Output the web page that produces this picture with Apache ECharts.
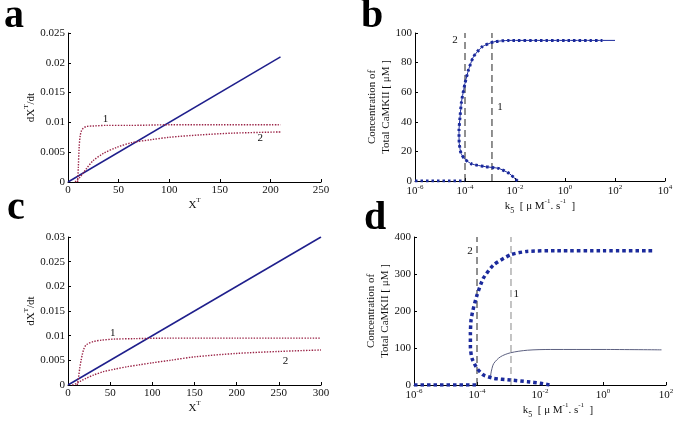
<!DOCTYPE html>
<html><head><meta charset="utf-8">
<script src="https://cdn.jsdelivr.net/npm/echarts@6/dist/echarts.min.js"></script>
<style>html,body{margin:0;padding:0;background:#fff}#c{width:685px;height:427px}</style>
</head><body><div id="c"></div>
<script>
// ---- Panel a data ----
const aLineX = [0, 210];
const aLineY = [0, 0.021];
const a1X = [9.5, 10.2, 11, 12, 13.3, 15, 18, 25, 38, 60, 100, 150, 210];
const a1Y = [0, 0.0025, 0.0058, 0.0077, 0.0086, 0.009, 0.0093, 0.0094, 0.0095, 0.0095, 0.0096, 0.0096, 0.0096];
const a2X = [7, 9, 11.7, 15, 18, 25, 35, 48, 63, 82, 100, 130, 163, 210];
const a2Y = [0, 0.0003, 0.0008, 0.0015, 0.0022, 0.0036, 0.0048, 0.0058, 0.0066, 0.0071, 0.0075, 0.0079, 0.0082, 0.0084];
// ---- Panel c data ----
const cLineX = [0, 300];
const cLineY = [0, 0.03];
const c1X = [11, 12.5, 14, 15.5, 17, 19, 22, 30, 40, 54, 80, 120, 200, 300];
const c1Y = [0, 0.0015, 0.0035, 0.005, 0.0062, 0.0074, 0.0082, 0.0088, 0.0091, 0.0093, 0.0094, 0.0095, 0.0095, 0.0095];
const c2X = [5, 10, 15, 22, 30, 42, 55, 70, 85, 100, 121, 150, 200, 250, 300];
const c2Y = [0, 0.0003, 0.0008, 0.0014, 0.002, 0.0027, 0.0032, 0.0037, 0.0041, 0.0045, 0.005, 0.0057, 0.0064, 0.0068, 0.0071];
// ---- Panel b data (k5 vs concentration) ----
const bLowK = [1e-6, 1e-5, 1e-4];
const bLowC = [0, 0, 0];
const bK = [1.26e-2, 5.75e-3, 2.24e-3, 6.46e-4, 1.86e-4, 1e-4, 6.92e-5, 5.89e-5, 5.75e-5, 6.31e-5, 7.24e-5, 1e-4, 1.38e-4, 2.19e-4, 4.79e-4, 1.41e-3, 5.75e-3, 0.1, 1, 10, 31.6];
const bC = [0, 5.2, 8.5, 9.7, 11.5, 14.6, 18.7, 25.4, 34, 43, 53.5, 66, 75, 84, 90.6, 94, 95, 95, 95, 95, 95];
const bTailK = [31.6, 100];
const bTailC = [95, 95];
const bVLineK = [1e-4, 1.2e-3];      // dashed lines "2" and "1"
const bVLineSpan = [0, 100];
// ---- Panel d data ----
const dLowK = [1e-6, 1e-5, 1e-4];
const dLowC = [0, 0, 0];
const dK = [2.0e-2, 1.05e-2, 3.98e-3, 1.15e-3, 3.39e-4, 1.62e-4, 1e-4, 6.92e-5, 6.17e-5, 6.17e-5, 6.46e-5, 7.41e-5, 1e-4, 1.58e-4, 3.31e-4, 1.17e-3, 3.8e-3, 3.39e-2, 1, 44.7];
const dC = [0, 4.5, 9, 13.5, 18, 27, 45, 72, 103, 139, 175, 202, 243, 288, 324, 352, 361, 363, 363, 363];
const dThinK = [2.69e-4, 2.75e-4, 3.0e-4, 3.39e-4, 5.5e-4, 1.15e-3, 3.98e-3, 2.19e-2, 1, 72];
const dThinC = [18, 30, 45, 58, 76, 87, 94, 96, 96, 95];
const dVLineK = [1e-4, 1.2e-3];
const dVLineSpan = [0, 400];
// tick labels
const logLabelBase = '10';

const zip = (xs, ys) => xs.map((x, i) => [x, ys[i]]);
const FONT = 'Liberation Serif';
const BLUE = '#1f1f8c';
const RED = '#9a2346';
const DOTB = '#1b2a9c';

function linAxis(gi, min, max, interval, extra) {
  return Object.assign({
    type: 'value', gridIndex: gi, min, max, interval,
    axisLine: { show: true, lineStyle: { color: '#000', width: 1 } },
    axisTick: { show: true, inside: true, length: 3, lineStyle: { color: '#000' } },
    splitLine: { show: false },
    axisLabel: { color: '#111', fontFamily: FONT, fontSize: 11, margin: 3 },
    nameTextStyle: { color: '#111', fontFamily: FONT, fontSize: 11 }
  }, extra || {});
}
function logAxis(gi, min, max, extra) {
  return Object.assign({
    type: 'log', logBase: 10, gridIndex: gi, min, max, interval: 2,
    axisLine: { show: true, lineStyle: { color: '#000', width: 1 } },
    axisTick: { show: true, inside: true, length: 3, lineStyle: { color: '#000' } },
    splitLine: { show: false }, minorTick: { show: false },
    axisLabel: {
      margin: 3, showMinLabel: true, showMaxLabel: true,
      formatter: v => '{b|' + logLabelBase + '}{s|' + Math.round(Math.log10(v)) + '}',
      rich: {
        b: { fontFamily: FONT, fontSize: 11, color: '#111', lineHeight: 13, verticalAlign: 'bottom' },
        s: { fontFamily: FONT, fontSize: 7, color: '#111', lineHeight: 13, verticalAlign: 'top' }
      }
    },
    nameTextStyle: { color: '#111', fontFamily: FONT, fontSize: 11 }
  }, extra || {});
}
const nameRich = {
  n: { fontFamily: FONT, fontSize: 11, color: '#111', lineHeight: 14, verticalAlign: 'bottom' },
  s: { fontFamily: FONT, fontSize: 7, color: '#111', lineHeight: 14, verticalAlign: 'top' },
  sub: { fontFamily: FONT, fontSize: 8, color: '#111', lineHeight: 14, verticalAlign: 'bottom', padding: [0, 0, -3, 0] }
};
function numLabel(coord, txt) {
  return { coord, symbolSize: 0, label: { show: true, formatter: txt, color: '#111', fontFamily: FONT, fontSize: 11, position: 'inside' } };
}
function vline(gi, k, span, color) {
  return { type: 'line', xAxisIndex: gi, yAxisIndex: gi, data: zip([k, k], span), showSymbol: false, silent: true,
    lineStyle: { color, width: 1, type: [7, 4] } };
}

const option = {
  animation: false,
  backgroundColor: '#fff',
  grid: [
    { left: 68, top: 33, width: 253, height: 149 },
    { left: 415, top: 33, width: 250, height: 148 },
    { left: 68, top: 237, width: 253, height: 148 },
    { left: 414, top: 237, width: 252, height: 148 }
  ],
  xAxis: [
    linAxis(0, 0, 250, 50, { name: '{n|X}{s|T}', nameLocation: 'middle', nameGap: 6, nameTextStyle: { rich: nameRich } }),
    logAxis(1, 1e-6, 1e4, { name: '{n|k}{sub|5}{n|  [ μ M}{s|-1}{n|. s}{s|-1}{n|  ]}', nameLocation: 'middle', nameGap: 17, nameTextStyle: { rich: nameRich } }),
    linAxis(2, 0, 300, 50, { name: '{n|X}{s|T}', nameLocation: 'middle', nameGap: 9, nameTextStyle: { rich: nameRich } }),
    logAxis(3, 1e-6, 1e2, { name: '{n|k}{sub|5}{n|  [ μ M}{s|-1}{n|. s}{s|-1}{n|  ]}', nameLocation: 'middle', nameGap: 17, nameTextStyle: { rich: nameRich, padding: [0, 0, 0, 36] } })
  ],
  yAxis: [
    linAxis(0, 0, 0.025, 0.005, { name: '{n|dX}{s|T}{n|/dt}', nameLocation: 'middle', nameGap: 27, nameTextStyle: { rich: nameRich } }),
    linAxis(1, 0, 100, 20, { name: '{n|Concentration of}\n{n|Total CaMKII [ μM ]}', nameLocation: 'middle', nameGap: 22, nameTextStyle: { rich: nameRich } }),
    linAxis(2, 0, 0.03, 0.005, { name: '{n|dX}{s|T}{n|/dt}', nameLocation: 'middle', nameGap: 27, nameTextStyle: { rich: nameRich } }),
    linAxis(3, 0, 400, 100, { name: '{n|Concentration of}\n{n|Total CaMKII [ μM ]}', nameLocation: 'middle', nameGap: 22, nameTextStyle: { rich: nameRich } })
  ],
  series: [
    // panel a
    { type: 'line', xAxisIndex: 0, yAxisIndex: 0, data: zip(aLineX, aLineY), showSymbol: false, lineStyle: { color: BLUE, width: 1.5 } },
    { type: 'line', xAxisIndex: 0, yAxisIndex: 0, data: zip(a1X, a1Y), showSymbol: false, smooth: 0.3, lineStyle: { color: RED, width: 1.4, type: [1.4, 1.4] },
      markPoint: { data: [numLabel([37, 0.0106], '1')] } },
    { type: 'line', xAxisIndex: 0, yAxisIndex: 0, data: zip(a2X, a2Y), showSymbol: false, smooth: 0.3, lineStyle: { color: RED, width: 1.4, type: [1.4, 1.4] },
      markPoint: { data: [numLabel([190, 0.0074], '2')] } },
    // panel b
    vline(1, bVLineK[0], bVLineSpan, '#222'),
    vline(1, bVLineK[1], bVLineSpan, '#222'),
    { type: 'line', xAxisIndex: 1, yAxisIndex: 1, data: zip(bK, bC), showSymbol: false, smooth: 0.2, lineStyle: { color: DOTB, width: 1 },
      markPoint: { data: [numLabel([4e-5, 95], '2'), numLabel([2.5e-3, 50], '1')] } },
    { type: 'line', xAxisIndex: 1, yAxisIndex: 1, data: zip(bTailK, bTailC), showSymbol: false, lineStyle: { color: DOTB, width: 1 } },
    { type: 'line', xAxisIndex: 1, yAxisIndex: 1, data: zip(bK, bC), showSymbol: false, smooth: 0.2, lineStyle: { color: DOTB, width: 3, type: [2.5, 3], cap: 'butt' } },
    { type: 'line', xAxisIndex: 1, yAxisIndex: 1, data: zip(bLowK, bLowC), showSymbol: false, lineStyle: { color: DOTB, width: 3, type: [2.5, 3], cap: 'butt' } },
    // panel c
    { type: 'line', xAxisIndex: 2, yAxisIndex: 2, data: zip(cLineX, cLineY), showSymbol: false, lineStyle: { color: BLUE, width: 1.5 } },
    { type: 'line', xAxisIndex: 2, yAxisIndex: 2, data: zip(c1X, c1Y), showSymbol: false, smooth: 0.3, lineStyle: { color: RED, width: 1.4, type: [1.4, 1.4] },
      markPoint: { data: [numLabel([53, 0.0105], '1')] } },
    { type: 'line', xAxisIndex: 2, yAxisIndex: 2, data: zip(c2X, c2Y), showSymbol: false, smooth: 0.3, lineStyle: { color: RED, width: 1.4, type: [1.4, 1.4] },
      markPoint: { data: [numLabel([258, 0.0049], '2')] } },
    // panel d
    vline(3, dVLineK[0], dVLineSpan, '#222'),
    vline(3, dVLineK[1], dVLineSpan, '#888'),
    { type: 'line', xAxisIndex: 3, yAxisIndex: 3, data: zip(dThinK, dThinC), showSymbol: false, smooth: 0.3, lineStyle: { color: '#5c6080', width: 1 },
      markPoint: { data: [numLabel([6e-5, 362], '2'), numLabel([1.75e-3, 246], '1')] } },
    { type: 'line', xAxisIndex: 3, yAxisIndex: 3, data: zip(dK, dC), showSymbol: false, smooth: 0.2, lineStyle: { color: DOTB, width: 3.5, type: [3.5, 3], cap: 'butt' } },
    { type: 'line', xAxisIndex: 3, yAxisIndex: 3, data: zip(dLowK, dLowC), showSymbol: false, lineStyle: { color: DOTB, width: 3.5, type: [3.5, 3], cap: 'butt' } }
  ],
  graphic: [
    { type: 'text', left: 4, top: -3, style: { text: 'a', font: 'bold 40px "Liberation Serif"', fill: '#000' } },
    { type: 'text', left: 361, top: -3, style: { text: 'b', font: 'bold 40px "Liberation Serif"', fill: '#000' } },
    { type: 'text', left: 7, top: 189, style: { text: 'c', font: 'bold 40px "Liberation Serif"', fill: '#000' } },
    { type: 'text', left: 364, top: 199, style: { text: 'd', font: 'bold 40px "Liberation Serif"', fill: '#000' } }
  ]
};
const chart = echarts.init(document.getElementById('c'), null, { renderer: 'canvas' });
chart.setOption(option);
</script></body></html>
